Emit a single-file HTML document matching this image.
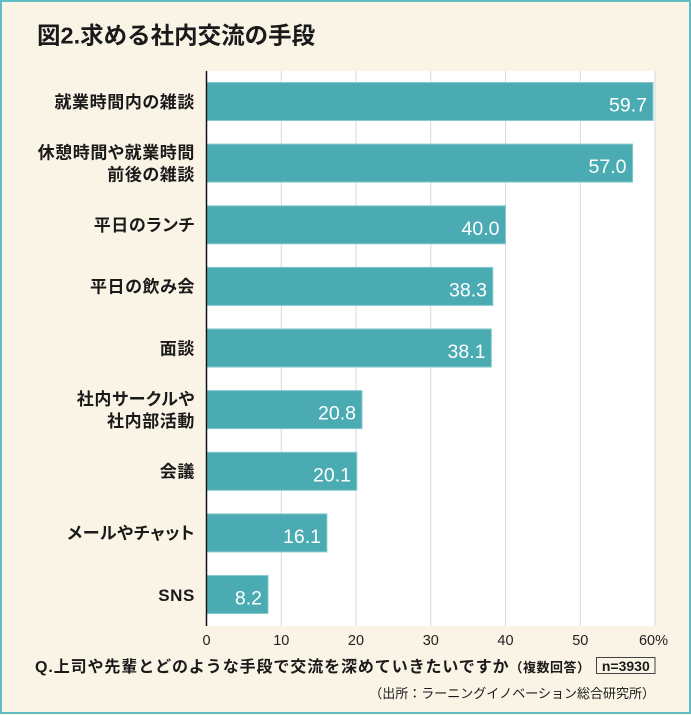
<!DOCTYPE html>
<html><head><meta charset="utf-8">
<style>
html,body{margin:0;padding:0;}
body{width:691px;height:715px;overflow:hidden;background:#faf4e6;}
svg{display:block;}
.jp{font-family:"Liberation Sans","Noto Sans CJK JP",sans-serif;}
.palt{font-feature-settings:"palt" 1;}
</style></head>
<body>
<svg width="691" height="715" viewBox="0 0 691 715" xmlns="http://www.w3.org/2000/svg" class="jp">
<rect x="0" y="0" width="691" height="715" fill="#faf4e6"/>
<rect x="1" y="1" width="689" height="712" fill="none" stroke="#62bcc4" stroke-width="2"/>
<text x="37" y="43.5" font-size="23.5" font-weight="bold" fill="#1a1a1a">図2.求める社内交流の手段</text>
<!-- plot area -->
<rect x="206" y="71" width="449" height="555" fill="#ffffff"/>
<g stroke="#d9d9d9" stroke-width="1">
<line x1="281.3" y1="71" x2="281.3" y2="626"/>
<line x1="356" y1="71" x2="356" y2="626"/>
<line x1="430.8" y1="71" x2="430.8" y2="626"/>
<line x1="505.5" y1="71" x2="505.5" y2="626"/>
<line x1="580.3" y1="71" x2="580.3" y2="626"/>
<line x1="655" y1="71" x2="655" y2="626"/>
</g>
<g fill="#4aabb3" stroke="#86cacf" stroke-width="1">
<rect x="207" y="82.5" width="446" height="38"/>
<rect x="207" y="144.1" width="425.6" height="38"/>
<rect x="207" y="205.8" width="298.5" height="38"/>
<rect x="207" y="267.4" width="285.8" height="38"/>
<rect x="207" y="329" width="284.3" height="38"/>
<rect x="207" y="390.6" width="155" height="38"/>
<rect x="207" y="452.3" width="149.8" height="38"/>
<rect x="207" y="513.9" width="119.9" height="38"/>
<rect x="207" y="575.5" width="61" height="38"/>
</g>
<line x1="206.5" y1="71" x2="206.5" y2="626" stroke="#111" stroke-width="1.5"/>
<!-- values -->
<g fill="#ffffff" font-size="19.5" text-anchor="end" font-family="Liberation Sans, sans-serif">
<text x="647" y="111.5">59.7</text>
<text x="626.5" y="173.1">57.0</text>
<text x="499.5" y="234.8">40.0</text>
<text x="487" y="296.4">38.3</text>
<text x="485.5" y="358">38.1</text>
<text x="356" y="419.6">20.8</text>
<text x="351" y="481.3">20.1</text>
<text x="321" y="542.9">16.1</text>
<text x="262" y="604.5">8.2</text>
</g>
<!-- category labels -->
<g fill="#1a1a1a" font-size="17" font-weight="bold" text-anchor="end" letter-spacing="0.6" class="palt">
<text x="195" y="107.8">就業時間内の雑談</text>
<text x="195" y="158.3">休憩時間や就業時間</text>
<text x="195" y="180.3">前後の雑談</text>
<text x="195" y="231.1">平日のランチ</text>
<text x="195" y="292.7">平日の飲み会</text>
<text x="195" y="354.3">面談</text>
<text x="195" y="404.9">社内サークルや</text>
<text x="195" y="426.9">社内部活動</text>
<text x="195" y="477.6">会議</text>
<text x="195" y="539.2">メールやチャット</text>
<text x="195" y="600.8">SNS</text>
</g>
<!-- ticks -->
<g fill="#222" font-size="14.5" text-anchor="middle" font-family="Liberation Sans, sans-serif">
<text x="206.5" y="645">0</text>
<text x="281.3" y="645">10</text>
<text x="356" y="645">20</text>
<text x="430.8" y="645">30</text>
<text x="505.5" y="645">40</text>
<text x="580.3" y="645">50</text>
<text x="668" y="645" text-anchor="end">60%</text>
</g>
<text x="35" y="672" font-size="16" font-weight="bold" fill="#1a1a1a" letter-spacing="0.9">Q.上司や先輩とどのような手段で交流を深めていきたいですか<tspan font-size="13" letter-spacing="0.5">（複数回答）</tspan></text>
<rect x="596.5" y="657.5" width="58.5" height="16" fill="none" stroke="#444" stroke-width="1"/>
<text x="625.8" y="671" font-size="14" font-weight="bold" fill="#1a1a1a" text-anchor="middle" font-family="Liberation Sans, sans-serif">n=3930</text>
<text x="655" y="698" font-size="13" fill="#1a1a1a" text-anchor="end">（出所：ラーニングイノベーション総合研究所）</text>
</svg>
</body></html>
